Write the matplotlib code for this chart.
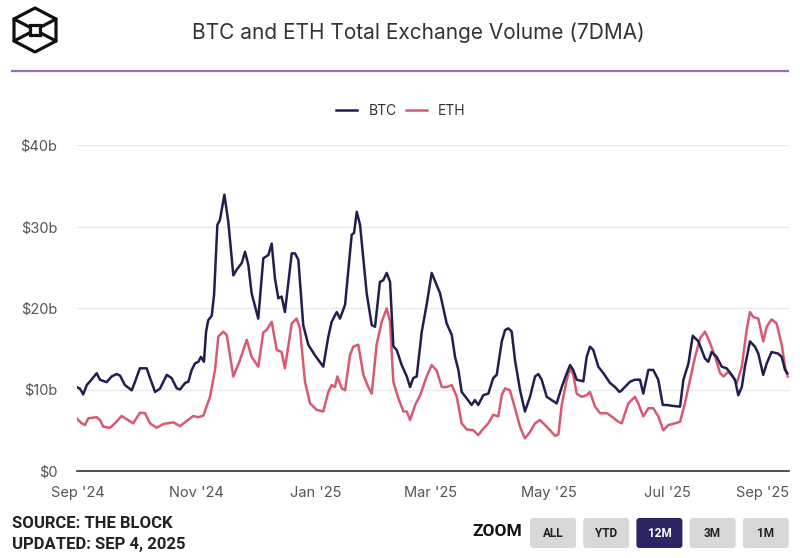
import numpy as np
import matplotlib
matplotlib.use("Agg")
import matplotlib.pyplot as plt
import matplotlib.dates as mdates
from matplotlib.patches import FancyBboxPatch, Polygon, Rectangle

# 7DMA exchange volume in $b, x = days since 2024-09-01
btc_days = [-0.7, 1.0, 2.7, 4.5, 6.2, 9.6, 11.3, 14.7, 17.3, 19.9, 21.6, 24.1, 27.6, 29.3,
            31.8, 35.3, 37.0, 39.6, 42.1, 45.6, 48.1, 50.7, 52.4, 55.0, 56.7, 58.4, 60.1,
            61.8, 63.2, 64.7, 65.8, 66.9, 68.7, 69.9, 71.6, 72.9, 75.2, 77.2, 79.8, 81.5,
            84.1, 85.8, 87.5, 89.2, 92.6, 95.2, 97.8, 99.5, 101.2, 102.9, 104.6, 106.3,
            109.8, 111.5, 113.2, 115.7, 118.3, 121.7, 126.0, 128.6, 130.3, 132.9, 134.6,
            137.2, 140.6, 141.8, 143.2, 144.9, 148.3, 150.9, 152.6, 155.1, 156.8, 158.6,
            160.3, 162.0, 163.7, 166.3, 168.9, 170.6, 172.2, 174.0, 176.6, 179.1, 181.7,
            184.3, 186.0, 189.4, 192.0, 193.7, 195.4, 197.1, 199.7, 202.2, 203.9, 205.6,
            208.2, 210.8, 213.3, 215.1, 217.7, 219.4, 221.1, 222.8, 224.5, 227.1, 229.6,
            232.2, 234.8, 236.5, 238.2, 240.8, 243.3, 245.9, 248.5, 251.1, 252.8, 254.4,
            256.2, 259.6, 261.3, 263.0, 264.7, 267.3, 269.9, 273.3, 275.9, 278.1, 279.3,
            281.9, 283.6, 286.1, 288.7, 290.4, 293.0, 295.5, 298.1, 300.4, 302.4, 305.8,
            309.3, 311.0, 313.6, 315.8, 318.7, 322.1, 323.8, 325.5, 328.1, 330.7, 333.2,
            335.8, 337.5, 339.2, 341.0, 342.6, 345.2, 347.8, 349.5, 352.0, 353.8, 356.3,
            359.7, 361.5, 363.2, 364.4]
btc_vals = [10.3, 10.1, 9.4, 10.55, 11.0, 12.0, 11.2, 10.9, 11.6, 11.9, 11.7, 10.55, 9.9, 10.96,
            12.6, 12.6, 11.4, 9.7, 10.1, 11.8, 11.4, 10.15, 10.0, 10.8, 10.96, 12.4, 13.2,
            13.4, 14.0, 13.4, 17.1, 18.5, 19.05, 21.6, 30.2, 30.8, 33.9, 30.6, 24.0, 24.7,
            25.5, 26.9, 25.3, 21.8, 18.7, 26.1, 26.5, 27.9, 23.6, 21.2, 21.4, 19.5,
            26.7, 26.7, 25.9, 17.9, 15.5, 14.2, 12.8, 16.5, 18.3, 19.5, 18.7,
            20.4, 29.0, 29.2, 31.8, 30.2, 21.8, 17.9, 17.7, 23.2, 23.4, 24.3,
            23.2, 15.3, 14.85, 13.0, 11.6, 10.3, 11.4, 11.6, 17.1, 20.4, 24.3,
            22.8, 21.8, 18.1, 16.7, 14.0, 12.4, 9.7, 8.9, 8.1, 8.7, 8.1,
            9.3, 9.5, 11.4, 11.8, 15.9, 17.3, 17.5, 17.1, 13.6, 9.9, 7.3,
            9.1, 11.6, 11.9, 11.2, 9.1, 8.7, 8.3, 10.3, 12.0, 13.0, 12.4,
            11.2, 11.0, 14.0, 15.25, 14.85, 12.8, 12.0, 10.8, 10.3, 9.7, 9.9,
            10.55, 10.96, 11.2, 11.2, 9.5, 12.4, 12.4, 11.2, 8.1, 8.1, 7.98,
            7.9, 11.2, 13.2, 16.6, 15.9, 13.8, 13.4, 14.6, 14.0, 12.8, 12.6,
            11.8, 11.2, 9.3, 10.3, 12.8, 15.9, 15.25, 14.4, 11.8, 13.2, 14.6,
            14.4, 14.0, 12.4, 12.0]

eth_days = [-0.7, 1.9, 3.6, 5.3, 9.6, 11.3, 13.0, 16.4, 19.0, 22.4, 25.0, 28.4, 31.8, 34.4,
            37.0, 40.4, 43.8, 49.0, 52.4, 55.8, 59.2, 61.8, 64.4, 67.8, 70.4, 72.1, 74.6,
            76.4, 79.8, 83.2, 86.7, 89.2, 92.6, 95.2, 96.9, 99.5, 102.1, 104.6, 106.3,
            109.8, 112.3, 114.0, 116.6, 119.2, 122.6, 126.0, 128.6, 130.3, 132.0, 133.2,
            135.5, 137.2, 139.7, 141.4, 144.0, 146.6, 149.1, 150.9, 153.4, 156.0, 158.6,
            160.3, 162.0, 164.6, 167.2, 168.9, 170.6, 173.2, 175.8, 179.1, 181.7, 184.3,
            186.9, 189.4, 192.0, 194.6, 197.1, 199.7, 203.1, 205.6, 208.2, 210.8, 213.3,
            215.9, 217.7, 219.4, 221.9, 224.5, 227.1, 229.6, 232.2, 234.8, 237.3, 239.9,
            242.5, 245.1, 246.8, 248.5, 251.1, 252.8, 254.4, 256.2, 258.7, 261.3, 263.0,
            265.6, 268.2, 271.6, 274.1, 277.5, 279.3, 282.7, 286.1, 287.8, 290.4, 293.0,
            295.5, 298.1, 300.7, 303.3, 306.7, 309.3, 311.8, 314.4, 317.0, 319.6, 322.1,
            324.7, 327.3, 329.9, 331.6, 334.2, 336.8, 338.4, 341.0, 343.5, 345.2, 346.9,
            349.5, 352.0, 353.8, 356.3, 358.9, 361.5, 363.2, 364.6]
eth_vals = [6.47, 5.85, 5.64, 6.47, 6.6, 6.26, 5.44, 5.3, 5.85, 6.75, 6.35, 5.85, 7.15, 7.1,
            5.85, 5.3, 5.77, 5.97, 5.5, 6.13, 6.75, 6.6, 6.8, 9.1, 12.4, 16.5, 17.1,
            16.7, 11.6, 13.6, 16.1, 14.0, 12.8, 17.0, 17.3, 18.3, 14.85, 14.6, 12.6,
            18.1, 18.7, 17.5, 10.96, 8.3, 7.5, 7.3, 9.7, 10.55, 10.3, 11.6,
            10.15, 9.9, 14.2, 15.25, 15.5, 11.8, 10.3, 9.5, 15.5, 18.3, 19.96,
            18.3, 10.96, 8.9, 7.3, 7.3, 6.26, 8.1, 9.3, 11.6, 13.0, 12.3,
            10.3, 10.3, 10.55, 9.1, 5.85, 5.1, 5.0, 4.4, 5.2, 5.85, 6.9,
            6.7, 9.3, 10.15, 9.9, 7.7, 5.4, 4.0, 4.8, 5.85, 6.26, 5.64,
            5.0, 4.3, 4.5, 8.1, 11.2, 12.6, 11.8, 9.5, 9.1, 9.3, 9.7,
            7.9, 7.1, 7.1, 6.7, 6.05, 5.85, 8.3, 9.1, 8.3, 6.7, 7.7,
            7.7, 6.7, 5.0, 5.64, 5.85, 6.05, 8.3, 11.2, 14.0, 16.3, 17.1,
            15.7, 14.0, 12.0, 11.6, 12.2, 11.4, 10.76, 12.8, 17.3, 19.5, 18.9,
            18.7, 15.9, 17.7, 18.6, 18.1, 15.5, 12.8, 11.6]

y_ticks = [0, 10, 20, 30, 40]
y_labels = [r"\$0", r"\$10b", r"\$20b", r"\$30b", r"\$40b"]
x_ticks = ["2024-09-01", "2024-11-01", "2025-01-01", "2025-03-01",
           "2025-05-01", "2025-07-01", "2025-09-01"]
x_labels = ["Sep '24", "Nov '24", "Jan '25", "Mar '25", "May '25", "Jul '25", "Sep '25"]
zoom_buttons = ["ALL", "YTD", "12M", "3M", "1M"]
active_button = "12M"

BTC_COLOR = "#211e50"
ETH_COLOR = "#d85a72"
W, H = 800, 558
plt.rcParams["font.family"] = ["Inter", "DejaVu Sans"]
narrow = ["DejaVu Sans Condensed", "Liberation Sans Narrow", "Roboto"]

start = mdates.date2num(np.datetime64("2024-09-01"))
px_per_day = 1.9466
x_left = 78 - 0.6 * px_per_day
x_right = 78 + 365.1 * px_per_day

fig = plt.figure(figsize=(W / 100, H / 100), dpi=100)
ax = fig.add_axes([x_left / W, 1 - 471 / H, (x_right - x_left) / W, 326 / H])

ax.plot(start + np.array(btc_days), btc_vals, color=BTC_COLOR, lw=1.8, label="BTC",
        solid_joinstyle="round", zorder=3)
ax.plot(start + np.array(eth_days), eth_vals, color=ETH_COLOR, lw=1.8, label="ETH",
        solid_joinstyle="round", zorder=2)

ax.set_xlim(start - 0.6, start + 365.1)
ax.set_ylim(0, 40)
ax.set_yticks(y_ticks)
ax.set_yticklabels(y_labels)
ax.set_xticks(mdates.date2num(np.array(x_ticks, dtype="datetime64[D]")))
ax.set_xticklabels(x_labels)
ax.get_xticklabels()[-1].set_ha("right")
ax.tick_params(axis="y", length=0, pad=14, labelsize=10.5, labelcolor="#555555")
ax.tick_params(axis="x", length=0, pad=11, labelsize=10.5, labelcolor="#555555")
ax.grid(axis="y", color="#e8e8e8", lw=1.0)
for side in ("top", "right", "left"):
    ax.spines[side].set_visible(False)
ax.spines["bottom"].set_color("#333333")
ax.spines["bottom"].set_linewidth(1.2)
ax.spines["bottom"].set_zorder(4)

ax.legend(loc="center", bbox_to_anchor=(401 / W, 1 - 111 / H), bbox_transform=fig.transFigure,
          ncol=2, frameon=False, fontsize=10, handlelength=1.5, handletextpad=0.8,
          columnspacing=0.7, labelcolor="#333333")

# overlay in pixel coordinates for the page furniture
ov = fig.add_axes([0, 0, 1, 1], zorder=-1)
ov.set_xlim(0, W)
ov.set_ylim(H, 0)
ov.set_axis_off()

# logo: hexagon with a cube drawn inside
cx, cy = 35, 30
hexagon = [(cx, 8), (cx - 21, 19), (cx - 21, 41), (cx, 52), (cx + 21, 41), (cx + 21, 19)]
ov.add_patch(Polygon(hexagon, closed=True, fill=False, ec="#111111", lw=2.3, joinstyle="round"))
for vx, vy in (hexagon[1], hexagon[2], hexagon[4], hexagon[5]):
    ov.plot([cx, vx], [cy, vy], color="#111111", lw=2.3, solid_capstyle="round", zorder=2)
ov.add_patch(Rectangle((cx - 5, cy - 5), 10, 10, fc="white", ec="#111111", lw=2.3, zorder=3))

ov.text(418, 33, "BTC and ETH Total Exchange Volume (7DMA)", ha="center", va="center",
        fontsize=15, color="#333333")
ov.plot([12, 788], [70.5, 70.5], color="#9c68c0", lw=1.6)

ov.text(12, 524, "SOURCE: THE BLOCK", ha="left", va="center", fontsize=12,
        fontweight="bold", color="#222222", family=narrow)
ov.text(12, 544, "UPDATED: SEP 4, 2025", ha="left", va="center", fontsize=12,
        fontweight="bold", color="#222222", family=narrow)
ov.text(522, 531, "ZOOM", ha="right", va="center", fontsize=12.5,
        fontweight="bold", color="#111111", family=narrow)

bx, bw, step = 530, 46, 53.2
for i, name in enumerate(zoom_buttons):
    active = name == active_button
    x0 = bx + i * step
    ov.add_patch(FancyBboxPatch((x0, 518), bw, 30, boxstyle="round,pad=0,rounding_size=3",
                                fc="#2b2563" if active else "#d8d8d8", ec="none"))
    ov.text(x0 + bw / 2, 533.5, name, ha="center", va="center", fontsize=8.5,
            fontweight="bold", color="white" if active else "#222222", family=narrow)

fig.savefig("out.png", dpi=100, facecolor="white")
